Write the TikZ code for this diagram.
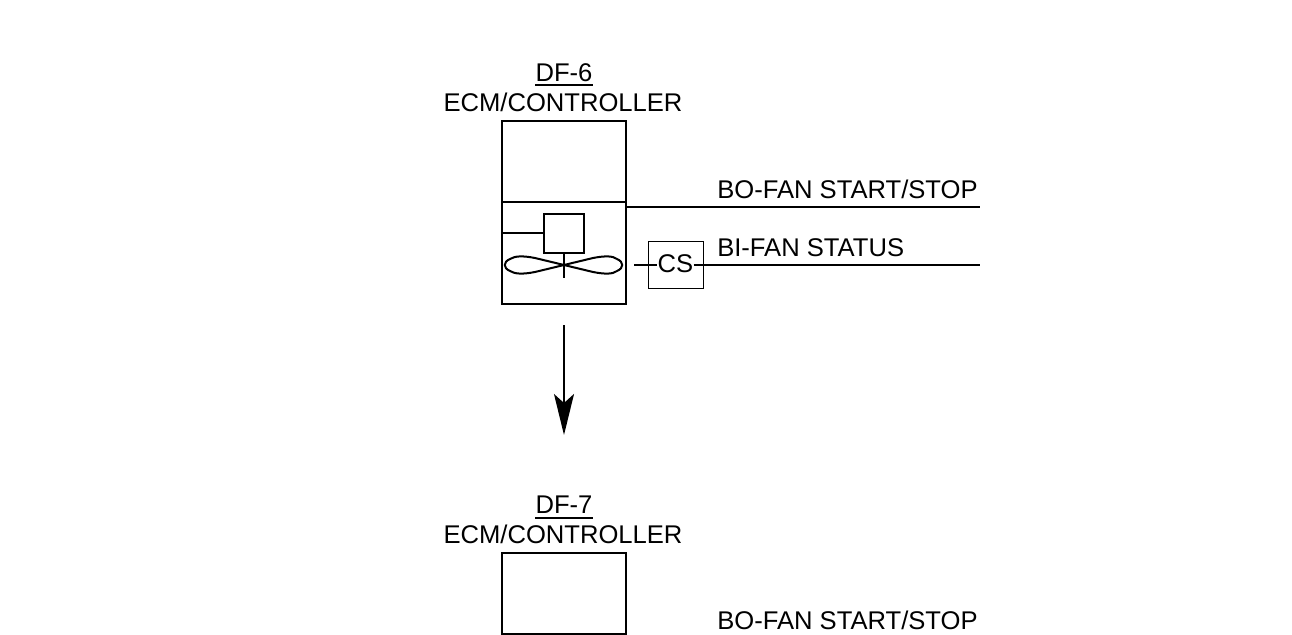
\documentclass[tikz,border=0pt]{standalone}
\usepackage{fontspec}
\setmainfont{Liberation Sans}
\usetikzlibrary{arrows.meta}
\tikzset{
  x=0.75pt,y=-0.75pt,
  lbl/.style={inner sep=0pt,font=\fontsize{19.2pt}{19.2pt}\selectfont,text=black},
  heavy/.style={draw=black,line width=1.6pt},
  medium/.style={draw=black,line width=1.5pt},
  thinbox/.style={draw=black,line width=0.7pt},
  rbox/.style={rectangle,inner sep=0pt,outer sep=0pt,anchor=north west},
  tagrule/.style={draw=black,line width=1.3pt}
}
\begin{document}
\begin{tikzpicture}
\useasboundingbox (0,0) rectangle (1292,635);
% upper unit
\node[lbl,anchor=base] (t1) at (564,82) {DF-6};
\node[lbl,anchor=base] (c1) at (563,111) {ECM/CONTROLLER};
\draw[tagrule] (t1.west |- 0,85) -- (t1.east |- 0,85);
\node[rbox,heavy,minimum width=93pt,minimum height=137.25pt] (u) at (502,121) {};
\coordinate (dl) at (502,202);
\coordinate (dr) at (626,202);
\draw[medium] (dl) -- (dr);
\node[rbox,heavy,minimum width=30pt,minimum height=29.25pt] (m) at (544,214) {};
\coordinate (ml) at (502,233);
\draw[medium] (ml) -- (m.west |- ml);
\coordinate (fc) at (564,265);
\coordinate (fs) at (564,278);
\draw[medium] (m.south) -- (fs);
\draw[medium,line join=round] (fc) -- (535,258)
  .. controls (522,255.5) and (515,256) .. (510,259)
  .. controls (503,262) and (503,268) .. (510,271)
  .. controls (515,274) and (522,274.5) .. (535,272)
  -- (fc) -- (593,258)
  .. controls (606,255.5) and (613,256) .. (617,259)
  .. controls (624,262) and (624,268) .. (617,271)
  .. controls (613,274) and (606,274.5) .. (593,272)
  -- cycle;
% CS sensor
\node[rbox,thinbox,minimum width=41.25pt,minimum height=35.25pt] (cs) at (648,241) {};
\node[lbl] (cst) at (675.5,264) {CS};
\coordinate (csl) at (634,265);
\coordinate (e2) at (980,265);
\draw[medium] (csl) -- (cst.west |- csl);
\draw[medium] (cst.east |- e2) -- (e2);
\coordinate (e1) at (980,207);
\draw[medium] (u.east |- e1) -- (e1);
\node[lbl,anchor=base west] (bo1) at (717,198) {BO-FAN START/STOP};
\node[lbl,anchor=base west] (bi1) at (717,256) {BI-FAN STATUS};
% arrow
\coordinate (as) at (564,325);
\coordinate (ae) at (564,435);
\draw[medium,-{Stealth[length=30.75pt,width=15pt,inset=6.75pt]}] (as) -- (ae);
% lower unit
\node[lbl,anchor=base] (t2) at (564,513) {DF-7};
\node[lbl,anchor=base] (c2) at (563,543) {ECM/CONTROLLER};
\draw[tagrule] (t2.west |- 0,518) -- (t2.east |- 0,518);
\node[rbox,heavy,minimum width=93pt,minimum height=60.75pt] (l) at (502,553) {};
\node[lbl,anchor=base west] (bo2) at (717,629) {BO-FAN START/STOP};
\end{tikzpicture}
\end{document}
